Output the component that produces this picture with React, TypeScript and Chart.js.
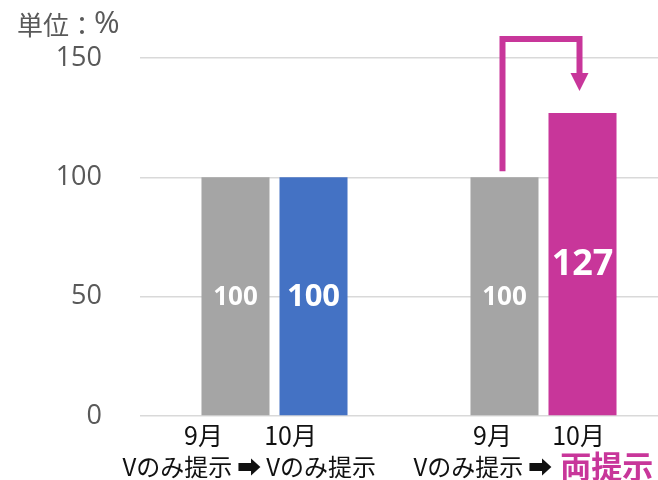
import React, { useEffect, useRef } from "react";
import { Chart, registerables } from "chart.js";

Chart.register(...registerables);

// ---- data ----
const groupFrom = ["Vのみ提示", "Vのみ提示"];
const groupTo = ["Vのみ提示", "両提示"];
const monthLabels = ["9月", "10月"];
const septValues = [100, 100];
const octValues = [100, 127];
const yTicks = [0, 50, 100, 150];
const unitLabel = "単位：";
const unitSymbol = "%";
const arrowGlyph = "➡";

// ---- styles ----
const GRAY = "#A5A5A5";
const BLUE = "#4472C4";
const MAGENTA = "#C8369A";
const JP = '"Noto Sans CJK JP", sans-serif';

const labelFontSizes = [
  [26, 26],
  [31, 36],
];
const monthOffsets = [
  [-32, -12],
  [-23, -4],
];
const groupStartOffsets = [-113, -91];

const overlayPlugin = {
  id: "overlay",
  afterDatasetsDraw(chart: any) {
    const ctx = chart.ctx;
    const m0 = chart.getDatasetMeta(0).data;
    const m1 = chart.getDatasetMeta(1).data;
    const bars = [
      [m0[0], m1[0]],
      [m0[1], m1[1]],
    ];
    const vals = [septValues, octValues];
    ctx.save();
    // value labels inside bars
    ctx.textAlign = "center";
    ctx.textBaseline = "middle";
    ctx.fillStyle = "#FFFFFF";
    for (let d = 0; d < 2; d++) {
      for (let g = 0; g < 2; g++) {
        const b = bars[g][d];
        ctx.font = `bold ${labelFontSizes[d][g]}px "Open Sans", sans-serif`;
        ctx.fillText(String(vals[d][g]), b.x, (b.y + b.base) / 2 + 1);
      }
    }
    // arrow
    const from = bars[1][0];
    const to = bars[1][1];
    const top = chart.chartArea.top - 19;
    const lx = from.x - 2;
    const rx = to.x - 3;
    const headTop = to.y - 40;
    const tip = to.y - 22;
    ctx.strokeStyle = MAGENTA;
    ctx.lineWidth = 6;
    ctx.lineJoin = "miter";
    ctx.lineCap = "butt";
    ctx.beginPath();
    ctx.moveTo(lx, from.y - 6);
    ctx.lineTo(lx, top);
    ctx.lineTo(rx, top);
    ctx.lineTo(rx, headTop + 1);
    ctx.stroke();
    ctx.fillStyle = MAGENTA;
    ctx.beginPath();
    ctx.moveTo(rx - 9, headTop);
    ctx.lineTo(rx + 9, headTop);
    ctx.lineTo(rx, tip);
    ctx.closePath();
    ctx.fill();

    // unit label
    ctx.fillStyle = "#595959";
    ctx.textAlign = "left";
    ctx.textBaseline = "middle";
    ctx.font = `26px ${JP}`;
    ctx.fillText(unitLabel, 17, 25);
    const uw = ctx.measureText(unitLabel).width;
    ctx.font = `31px "Open Sans", sans-serif`;
    ctx.fillText(unitSymbol, 17 + uw - 1, 24);

    // month labels
    const base = chart.chartArea.bottom;
    ctx.fillStyle = "#111111";
    ctx.textAlign = "center";
    ctx.font = `25px ${JP}`;
    for (let d = 0; d < 2; d++) {
      for (let g = 0; g < 2; g++) {
        const b = bars[g][d];
        ctx.fillText(monthLabels[d], b.x + monthOffsets[d][g], base + 19);
      }
    }

    // group labels
    ctx.textAlign = "left";
    const y2 = base + 51;
    for (let g = 0; g < 2; g++) {
      ctx.fillStyle = "#111111";
      ctx.font = `24px ${JP}`;
      let x = bars[g][0].x + groupStartOffsets[g];
      ctx.fillText(groupFrom[g], x, y2);
      x += ctx.measureText(groupFrom[g]).width + 5;
      ctx.fillText(arrowGlyph, x, y2);
      x += ctx.measureText(arrowGlyph).width + 5;
      if (g === 1) {
        ctx.font = `bold 31px ${JP}`;
        ctx.fillStyle = MAGENTA;
        ctx.fillText(groupTo[g], x + 3, y2 - 1);
      } else {
        ctx.fillText(groupTo[g], x, y2);
      }
    }
    ctx.restore();
  },
};

export default function App() {
  const ref = useRef<HTMLCanvasElement>(null);
  useEffect(() => {
    if (!ref.current) return;
    const chart = new Chart(ref.current, {
      type: "bar",
      data: {
        labels: groupFrom.map((f, i) => `${f} ${arrowGlyph} ${groupTo[i]}`),
        datasets: [
          {
            label: monthLabels[0],
            data: septValues,
            backgroundColor: [GRAY, GRAY],
            categoryPercentage: 0.58,
            barPercentage: 0.872,
          },
          {
            label: monthLabels[1],
            data: octValues,
            backgroundColor: [BLUE, MAGENTA],
            categoryPercentage: 0.58,
            barPercentage: 0.872,
          },
        ],
      },
      options: {
        animation: false,
        responsive: false,
        layout: { padding: { top: 58, bottom: 64, left: 0, right: 0 } },
        plugins: { legend: { display: false }, tooltip: { enabled: false } },
        scales: {
          x: { display: false, grid: { display: false } },
          y: {
            min: 0,
            max: 150,
            afterFit: (s: any) => {
              s.width = 140;
            },
            afterBuildTicks: (s: any) => {
              s.ticks = yTicks.map((v) => ({ value: v }));
            },
            ticks: {
              padding: 38,
              color: "#595959",
              font: { family: '"Open Sans", sans-serif', size: 27 },
            },
            grid: { color: "#D9D9D9", lineWidth: 1.5, drawTicks: false },
            border: { display: false },
          },
        },
      },
      plugins: [overlayPlugin],
    });
    return () => chart.destroy();
  }, []);
  return (
    <div
      style={{
        position: "absolute",
        left: 0,
        top: 0,
        width: 658,
        height: 480,
        overflow: "hidden",
        background: "#fff",
      }}
    >
      <canvas ref={ref} width={678} height={480} style={{ display: "block" }} />
    </div>
  );
}
